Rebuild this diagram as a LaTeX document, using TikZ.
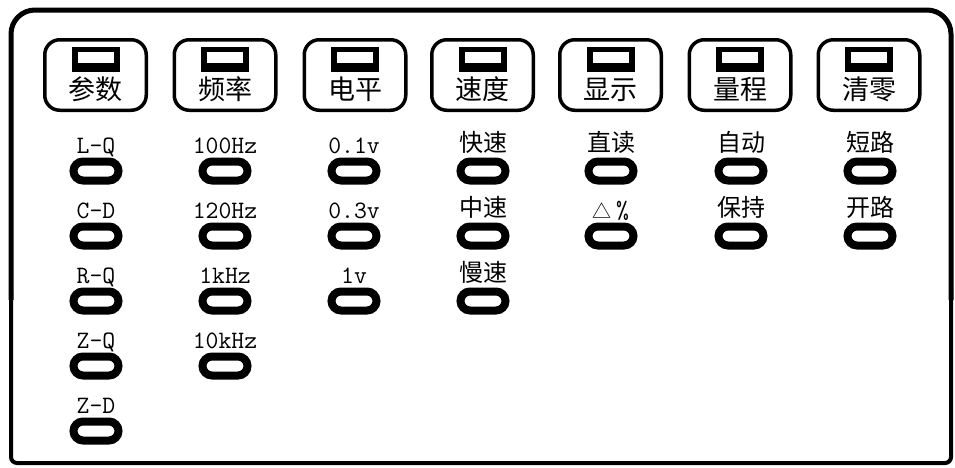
\documentclass[tikz,border=0pt]{standalone}
\usepackage{fontspec}
\newfontfamily\cjk{Noto Sans CJK SC}
\usetikzlibrary{positioning}
\newcommand{\zh}[1]{\raisebox{1.5pt}{\cjk\fontsize{24}{24}\selectfont #1}}
\newcommand{\tri}{{\cjk\fontsize{19}{19}\selectfont △}}
\tikzset{
  panel/.style={line width=5pt},
  btn/.style={draw, line width=3.5pt, rounded corners=15pt, minimum width=101.5pt, minimum height=70.5pt, inner sep=0pt},
  led/.style={fill=black, minimum width=48pt, minimum height=25pt, inner sep=0pt},
  window/.style={fill=white, minimum width=36pt, minimum height=11pt, inner sep=0pt},
  pad/.style={draw, line width=8pt, rounded corners=9.5pt, minimum width=45pt, minimum height=19pt, inner sep=0pt},
  btntext/.style={font=\cjk\fontsize{27}{27}\selectfont, inner sep=0pt, anchor=base},
  lbl/.style={font=\ttfamily\fontsize{25}{25}\selectfont, inner sep=0pt, anchor=base},
}

\begin{document}
\begin{tikzpicture}[x=1pt,y=-1pt]
    \useasboundingbox (0,0) rectangle (955,467);
    % panel outline
    \draw[panel, rounded corners=24pt] (11,300) -- (11,10) -- (951,10) -- (951,300);
    \draw[panel, line width=4pt, rounded corners=6pt] (11,290) -- (11,463) -- (951,463) -- (951,290);
    % push buttons
    \foreach \x/\t [count=\i] in {95.5/参数, 225/频率, 355/电平, 482.5/速度, 610.5/显示, 740/量程, 869/清零} {
      \node[btn] (b\i) at (\x,75) {};
      \node[led] (d\i) at (\x,59.5) {};
      \node[window] (w\i) at (\x,57.5) {};
      \node[btntext] (t\i) at (\x,99) {\t};
    }
    % indicator lamps
    \foreach \x/\labels [count=\c] in {96/{L-Q,C-D,R-Q,Z-Q,Z-D}, 225/{100Hz,120Hz,1kHz,10kHz},
        354/{0.1v,0.3v,1v}, 483/{\zh{快速},\zh{中速},\zh{慢速}}, 611/{\zh{直读},\tri\,\%},
        741/{\zh{自动},\zh{保持}}, 870/{\zh{短路},\zh{开路}}} {
      \foreach \t [count=\r] in \labels {
        \node[pad] (p\c-\r) at (\x,{171+65*(\r-1)}) {};
        \node[lbl] (l\c-\r) at (\x,{153+65*(\r-1)}) {\t};
      }
    }
\end{tikzpicture}
\end{document}
